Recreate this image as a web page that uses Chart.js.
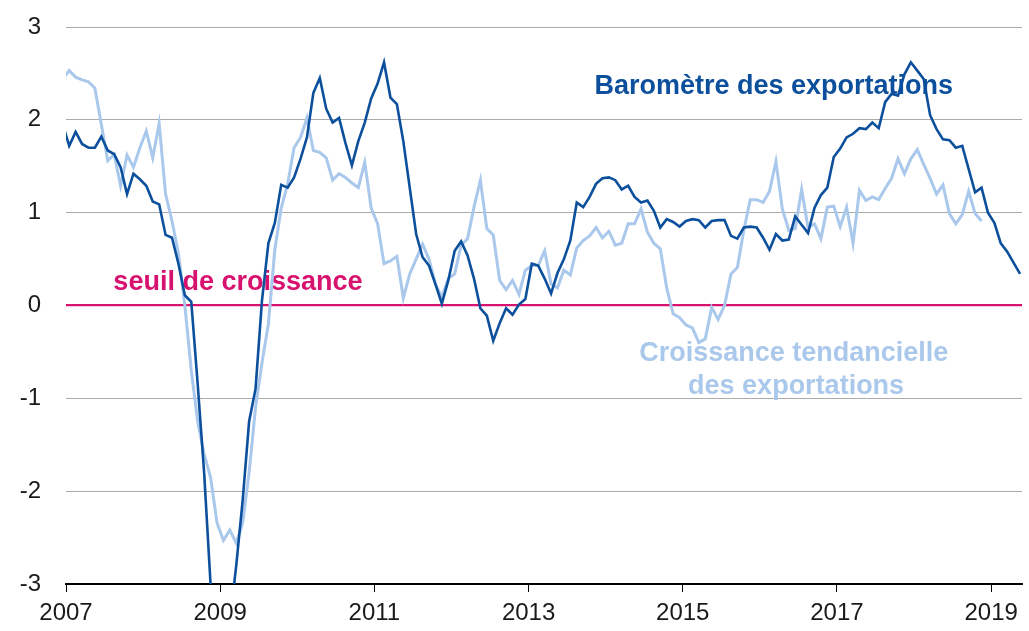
<!DOCTYPE html>
<html>
<head>
<meta charset="utf-8">
<script src="https://cdn.jsdelivr.net/npm/chart.js@4"></script>
<style>
  html, body { margin: 0; padding: 0; background: #fff; }
  #wrap { width: 1029px; height: 631px; position: relative; }
</style>
</head>
<body>
<div id="wrap"><canvas id="expChart"></canvas></div>
<script>
// --- Data (monthly, first value = Dec 2006, plotted mid-month) ---
const firstYear = 2006;
const firstMonth = 11; // December (0-based)

const barometre = [
  1.95, 1.72, 1.87, 1.74, 1.70, 1.70, 1.82, 1.67, 1.63, 1.49, 1.20, 1.42, 1.36,
  1.29, 1.12, 1.09, 0.76, 0.73, 0.45, 0.11, 0.04, -0.85, -1.80, -3.00, -3.60,
  -3.70, -3.40, -2.80, -2.10, -1.25, -0.90, 0.05, 0.67, 0.89, 1.30, 1.27, 1.38,
  1.58, 1.81, 2.29, 2.45, 2.12, 1.97, 2.02, 1.75, 1.51, 1.77, 1.97, 2.23, 2.39,
  2.62, 2.24, 2.17, 1.77, 1.27, 0.77, 0.52, 0.43, 0.23, 0.02, 0.27, 0.59, 0.69,
  0.54, 0.29, -0.03, -0.11, -0.38, -0.19, -0.03, -0.10, 0.01, 0.07, 0.45, 0.43,
  0.29, 0.13, 0.35, 0.50, 0.70, 1.11, 1.06, 1.17, 1.31, 1.37, 1.38, 1.35, 1.25,
  1.29, 1.17, 1.11, 1.13, 1.02, 0.84, 0.93, 0.90, 0.85, 0.91, 0.93, 0.92, 0.84,
  0.91, 0.92, 0.92, 0.75, 0.72, 0.84, 0.85, 0.84, 0.73, 0.60, 0.77, 0.70, 0.71,
  0.96, 0.87, 0.78, 1.05, 1.19, 1.27, 1.60, 1.69, 1.81, 1.85, 1.91, 1.90, 1.97,
  1.91, 2.19, 2.28, 2.26, 2.49, 2.62, 2.53, 2.44, 2.05, 1.90, 1.79, 1.78, 1.70,
  1.72, 1.47, 1.22, 1.27, 1.00, 0.89, 0.67, 0.58, 0.46, 0.34
];

const tendance = [
  2.44, 2.53, 2.46, 2.43, 2.41, 2.34, 1.95, 1.56, 1.63, 1.29, 1.62, 1.49, 1.70,
  1.88, 1.59, 1.96, 1.20, 0.91, 0.56, 0.00, -0.70, -1.25, -1.60, -1.85, -2.34,
  -2.53, -2.42, -2.56, -2.34, -1.80, -1.10, -0.62, -0.20, 0.60, 1.05, 1.31, 1.70,
  1.81, 2.02, 1.67, 1.65, 1.59, 1.35, 1.42, 1.38, 1.32, 1.27, 1.54, 1.05, 0.88,
  0.45, 0.48, 0.53, 0.08, 0.34, 0.50, 0.66, 0.50, 0.23, 0.09, 0.29, 0.34, 0.65,
  0.72, 1.06, 1.35, 0.83, 0.76, 0.27, 0.17, 0.27, 0.12, 0.38, 0.43, 0.43, 0.59,
  0.23, 0.19, 0.38, 0.33, 0.62, 0.70, 0.75, 0.84, 0.73, 0.80, 0.65, 0.67, 0.88,
  0.88, 1.04, 0.79, 0.67, 0.61, 0.19, -0.09, -0.13, -0.21, -0.24, -0.40, -0.36,
  -0.02, -0.15, 0.00, 0.34, 0.41, 0.81, 1.14, 1.14, 1.11, 1.23, 1.55, 1.04, 0.81,
  0.83, 1.25, 0.84, 0.88, 0.72, 1.06, 1.07, 0.85, 1.06, 0.67, 1.24, 1.13, 1.17,
  1.14, 1.26, 1.37, 1.58, 1.42, 1.58, 1.68, 1.52, 1.37, 1.20, 1.30, 0.99, 0.88,
  0.98, 1.23, 0.99, 0.91
];

const yearTicks = [2007, 2009, 2011, 2013, 2015, 2017, 2019];
const valueTicks = [-3, -2, -1, 0, 1, 2, 3];

// --- Colours ---
const DARK = '#0c4f9c';
const LIGHT = '#a9c8eb';
const MAGENTA = '#d8126f';
const GRID = '#ababab';

function toPoints(values) {
    return values.map((v, i) => ({
        x: firstYear + (firstMonth + i + 0.5) / 12,
        y: v
    }));
}

// Text notes, anchored in data units
const notes = [
    { text: 'Baromètre des exportations', x: 2016.18, y: 2.28, color: DARK },
    { text: 'seuil de croissance', x: 2009.23, y: 0.17, color: MAGENTA },
    { text: 'Croissance tendancielle', x: 2016.44, y: -0.60, color: LIGHT },
    { text: 'des exportations', x: 2016.47, y: -0.95, color: LIGHT }
];

const notesPlugin = {
    id: 'notes',
    beforeDatasetsDraw(chart) {
        const ctx = chart.ctx;
        const xs = chart.scales.x;
        const ys = chart.scales.y;
        ctx.save();
        ctx.font = 'bold 27px "Liberation Sans", Arial, sans-serif';
        ctx.textAlign = 'center';
        ctx.textBaseline = 'alphabetic';
        notes.forEach(n => {
            ctx.fillStyle = n.color;
            ctx.fillText(n.text, xs.getPixelForValue(n.x), ys.getPixelForValue(n.y));
        });
        ctx.restore();
    }
};

const ctx = document.getElementById('expChart').getContext('2d');

new Chart(ctx, {
    type: 'line',
    data: {
        datasets: [
            {
                label: 'Baromètre des exportations',
                data: toPoints(barometre),
                borderColor: DARK,
                borderWidth: 2.6,
                pointRadius: 0,
                tension: 0,
                clip: 0
            },
            {
                label: 'Croissance tendancielle des exportations',
                data: toPoints(tendance),
                borderColor: LIGHT,
                borderWidth: 3,
                pointRadius: 0,
                tension: 0,
                clip: 0
            }
        ]
    },
    options: {
        responsive: true,
        maintainAspectRatio: false,
        animation: false,
        layout: { padding: { top: 27, right: 7, left: 0, bottom: 0 } },
        plugins: {
            legend: { display: false },
            tooltip: { enabled: false }
        },
        scales: {
            x: {
                type: 'linear',
                min: 2007,
                max: 2019.4,
                afterBuildTicks: s => { s.ticks = yearTicks.map(v => ({ value: v })); },
                afterFit: s => { s.height = 47; },
                border: { display: true, color: '#000', width: 2 },
                grid: {
                    drawOnChartArea: false,
                    drawTicks: true,
                    tickLength: 8,
                    color: '#000',
                    lineWidth: 1
                },
                ticks: {
                    autoSkip: false,
                    maxRotation: 0,
                    padding: 7,
                    color: '#1a1a1a',
                    font: { family: '"Liberation Sans", Arial, sans-serif', size: 24 },
                    callback: v => String(v)
                }
            },
            y: {
                min: -3,
                max: 3,
                afterBuildTicks: s => { s.ticks = valueTicks.map(v => ({ value: v })); },
                afterFit: s => { s.width = 66; },
                border: { display: false },
                grid: {
                    drawTicks: true,
                    tickLength: 25,
                    tickColor: 'rgba(0,0,0,0)',
                    color: c => c.tick.value === 0 ? MAGENTA : (c.tick.value === -3 ? 'rgba(0,0,0,0)' : GRID),
                    lineWidth: c => c.tick.value === 0 ? 2.2 : 1
                },
                ticks: {
                    padding: 0,
                    color: '#1a1a1a',
                    font: { family: '"Liberation Sans", Arial, sans-serif', size: 24 },
                    callback: v => String(v)
                }
            }
        }
    },
    plugins: [notesPlugin]
});
</script>
</body>
</html>
